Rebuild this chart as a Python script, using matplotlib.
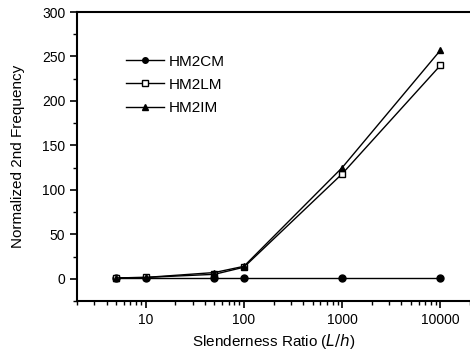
import matplotlib
matplotlib.use('Agg')
import matplotlib.pyplot as plt
from matplotlib.ticker import FixedLocator, LogLocator, NullFormatter, MultipleLocator

plt.rcParams['font.family'] = ['Liberation Sans', 'DejaVu Sans']

ratio = [5, 10, 50, 100, 1000, 10000]
hm2cm = [1, 1, 1, 1, 1, 1]
hm2lm = [1, 1.5, 5, 13, 118, 240]
hm2im = [1, 1.5, 7, 14, 125, 257]

fig = plt.figure(figsize=(4.70, 3.57), dpi=100)
ax = fig.add_axes([77/470, 1 - 301/357, 1 - 77/470, (301 - 12)/357])

ax.plot(ratio, hm2cm, '-o', color='black', lw=1, ms=5, label='HM2CM')
ax.plot(ratio, hm2lm, '-s', color='black', lw=1, ms=5, mfc='white', label='HM2LM')
ax.plot(ratio, hm2im, '-^', color='black', lw=1, ms=5, label='HM2IM')

ax.set_xscale('log')
ax.set_xlim(2, 20000)
ax.set_ylim(-25, 300)
ax.xaxis.set_major_locator(FixedLocator([10, 100, 1000, 10000]))
ax.set_xticklabels(['10', '100', '1000', '10000'])
ax.xaxis.set_minor_locator(LogLocator(base=10, subs=range(2, 10), numticks=20))
ax.xaxis.set_minor_formatter(NullFormatter())
ax.yaxis.set_major_locator(MultipleLocator(50))
ax.yaxis.set_minor_locator(MultipleLocator(25))
ax.spines['right'].set_visible(False)
for s in ['left', 'bottom', 'top']:
    ax.spines[s].set_linewidth(1.5)
ax.tick_params(which='major', length=5, width=1.2, labelsize=10)
ax.tick_params(which='minor', length=3, width=1)

ax.set_xlabel('Slenderness Ratio ($\\it{L/h}$)', fontsize=11)
ax.set_ylabel('Normalized 2nd Frequency', fontsize=11, labelpad=12)

ax.legend(loc='upper left', bbox_to_anchor=(0.09, 0.9), frameon=False,
          fontsize=11, handlelength=2.5, labelspacing=0.6, handletextpad=0.3,
          markerscale=0.8)

fig.savefig('out.png', dpi=100)
